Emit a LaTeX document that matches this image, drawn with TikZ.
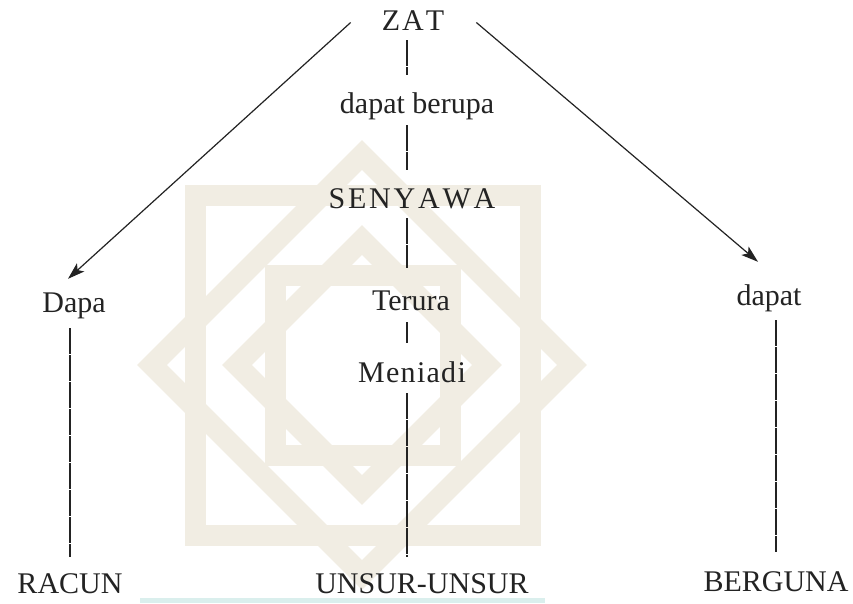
\documentclass[tikz,border=0pt]{standalone}
\usepackage{fontspec}
\setmainfont{Liberation Serif}
\usetikzlibrary{arrows.meta,calc}
\definecolor{ink}{RGB}{35,35,35}
\definecolor{wm}{RGB}{241,237,227}
\definecolor{teal}{RGB}{218,239,237}
% spaced-out capitals
\newcommand\lsp[1]{\kern#1}
\begin{document}
\begin{tikzpicture}[x=1pt,y=-1pt,
  lbl/.style={font=\fontsize{30}{36}\selectfont, text=ink, text height=21pt,
              text depth=6pt, inner sep=0pt, anchor=base},
  link/.style={draw=ink, line width=1.1pt, dash pattern=on 26pt off 1pt},
  arrowlink/.style={draw=ink, line width=1.2pt, -{Stealth[length=17pt,width=11pt,inset=4pt]}},
  knot/.style={draw=wm, line width=21pt, line join=miter}]

% page
\fill[white] (0,0) rectangle (853,603);
\useasboundingbox (0,0) rectangle (853,603);

% background knot emblem
\begin{scope}
  \clip (0,0) rectangle (853,603);
  \draw[knot] (362,155) -- (572,365) -- (362,575) -- (152,365) -- cycle;
  \draw[knot] (195,195) rectangle (530,535);
  \draw[knot] (362,240) -- (487,365) -- (362,490) -- (237,365) -- cycle;
  \draw[knot] (275,275) rectangle (450,455);
  \fill[teal] (140,598) rectangle (545,603);
\end{scope}

% labels
\node[lbl] (zat)     at (413,30)  {Z\lsp{2pt}A\lsp{2pt}T};
\node[lbl] (berupa)  at (417,113) {dapat berupa};
\node[lbl] (senyawa) at (412,208) {S\lsp{2.8pt}E\lsp{2.8pt}N\lsp{2.8pt}Y\lsp{2.8pt}A\lsp{2.8pt}W\lsp{2.8pt}A};
\node[lbl] (terura)  at (411,310) {Terura};
\node[lbl] (menjadi) at (412,382) {M\lsp{1.3pt}e\lsp{1.3pt}n\lsp{1.3pt}i\lsp{1.3pt}a\lsp{1.3pt}d\lsp{1.3pt}i};
\node[lbl] (unsur)   at (422,593) {UNSUR-UNSUR};
\node[lbl] (dapa)    at (74,312)  {Dapa};
\node[lbl] (racun)   at (70,593)  {RACUN};
\node[lbl] (dapat)   at (769,305) {dapat};
\node[lbl] (berguna) at (776,591) {BERGUNA};

% central chain
\coordinate (spine) at (407,0);
\draw[link, shorten <=4pt, shorten >=17pt] (zat.south -| spine) -- (berupa.north -| spine);
\draw[link, shorten <=6pt, shorten >=17pt] (berupa.south -| spine) -- (senyawa.north -| spine);
\draw[link, shorten <=4pt, shorten >=21pt] (senyawa.south -| spine) -- (terura.north -| spine);
\draw[link, shorten <=6pt, shorten >=18pt] (terura.south -| spine) -- (menjadi.north -| spine);
\draw[link, shorten <=5pt, shorten >=15pt] (menjadi.south -| spine) -- (unsur.north -| spine);

% side branches
\draw[arrowlink] ($(zat.west)+(-31,0)$) -- ($(dapa.north)+(-6,-12)$);
\draw[arrowlink] ($(zat.east)+(32,0)$) -- ($(dapat.north)+(-11,-22)$);
\draw[link, shorten <=10pt, shorten >=15pt] (dapa.south -| racun.north) -- (racun.north);
\draw[link, shorten <=9pt, shorten >=18pt] (dapat.south -| berguna.north) -- (berguna.north);
\end{tikzpicture}
\end{document}
